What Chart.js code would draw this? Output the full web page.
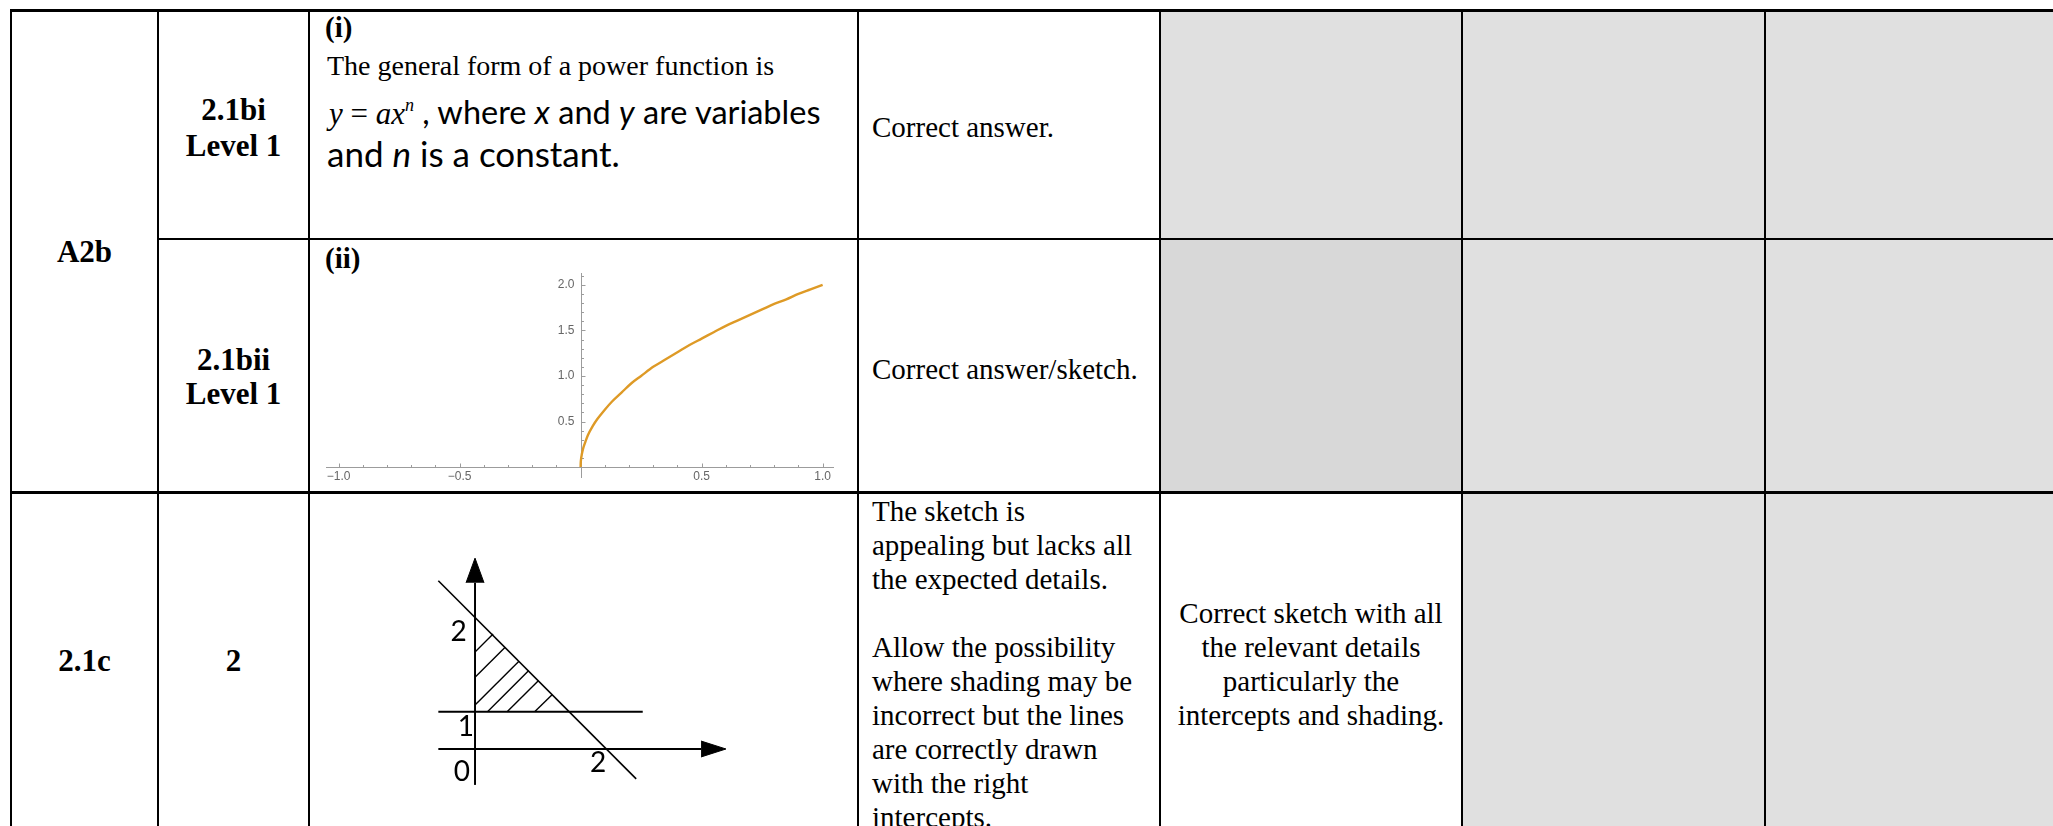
<!DOCTYPE html>
<html>
<head>
<meta charset="utf-8">
<script src="https://cdn.jsdelivr.net/npm/chart.js@4.4.1/dist/chart.umd.min.js"></script>
<style>
  html, body { margin: 0; padding: 0; background: #fff; }
  body { width: 2053px; height: 826px; overflow: hidden; position: relative;
         font-family: 'Liberation Serif', 'Times New Roman', serif; color: #000; }
  .ln { position: absolute; background: #000; }
  .fill { position: absolute; }
  .cell { position: absolute; display: flex; align-items: center; justify-content: center;
          text-align: center; font-weight: bold; font-size: 31px; line-height: 36px; }
  .t { position: absolute; font-size: 29px; line-height: 34px; white-space: nowrap; }
  .cal { font-family: Lato, 'Open Sans', sans-serif; font-size: 35px; }
  .m { font-family: 'Liberation Serif', serif; font-style: italic; font-size: 31px; }
  canvas { position: absolute; }
</style>
</head>
<body>

<!-- cell shading -->
<div class="fill" style="left:1160px;top:11px;width:893px;height:228px;background:#e0e0e0"></div>
<div class="fill" style="left:1160px;top:239px;width:302px;height:253px;background:#d8d8d8"></div>
<div class="fill" style="left:1462px;top:239px;width:591px;height:253px;background:#e0e0e0"></div>
<div class="fill" style="left:1462px;top:492px;width:591px;height:334px;background:#e0e0e0"></div>

<!-- grid lines -->
<div class="ln" style="left:10px;top:9px;width:2043px;height:3px"></div>
<div class="ln" style="left:157px;top:238px;width:1896px;height:2px"></div>
<div class="ln" style="left:10px;top:491px;width:2043px;height:3px"></div>
<div class="ln" style="left:10px;top:10px;width:2px;height:816px"></div>
<div class="ln" style="left:157px;top:10px;width:2px;height:816px"></div>
<div class="ln" style="left:308px;top:10px;width:2px;height:816px"></div>
<div class="ln" style="left:857px;top:10px;width:2px;height:816px"></div>
<div class="ln" style="left:1159px;top:10px;width:2px;height:816px"></div>
<div class="ln" style="left:1461px;top:10px;width:2px;height:816px"></div>
<div class="ln" style="left:1764px;top:10px;width:2px;height:816px"></div>

<!-- first two columns -->
<div class="cell" style="left:11px;top:11px;width:147px;height:481px">A2b</div>
<div class="cell" style="left:11px;top:492px;width:147px;height:338px">2.1c</div>
<div class="cell" style="left:158px;top:14px;width:151px;height:228px">2.1bi<br>Level 1</div>
<div class="cell" style="left:158px;top:250px;width:151px;height:253px;line-height:34px">2.1bii<br>Level 1</div>
<div class="cell" style="left:158px;top:492px;width:151px;height:338px">2</div>

<!-- question cells -->
<div class="t" style="left:325px;top:10px;font-weight:bold">(i)</div>
<div class="t" style="left:327px;top:49px;font-size:28px">The general form of a power function is</div>
<div class="t cal" style="left:329px;top:85px;line-height:40px;font-size:32.5px"><span class="m">y</span><span class="m" style="font-style:normal"> = </span><span class="m">ax</span><sup class="m" style="font-size:18px;vertical-align:13px">n</sup> , where <i>x</i> and <i>y</i> are variables</div>
<div class="t cal" style="left:327px;top:133px;line-height:40px">and <i>n</i> is a constant.</div>
<div class="t" style="left:325px;top:241px;font-weight:bold">(ii)</div>

<!-- comment cells -->
<div class="t" style="left:872px;top:110px">Correct answer.</div>
<div class="t" style="left:872px;top:352px">Correct answer/sketch.</div>
<div class="t" style="left:872px;top:494px">The sketch is<br>appealing but lacks all<br>the expected details.<br><br>Allow the possibility<br>where shading may be<br>incorrect but the lines<br>are correctly drawn<br>with the right<br>intercepts.</div>
<div class="t" style="left:1160px;top:596px;width:302px;text-align:center">Correct sketch with all<br>the relevant details<br>particularly the<br>intercepts and shading.</div>

<canvas id="powerChart" width="545" height="228" style="left:311px;top:262px"></canvas>
<canvas id="sketchChart" width="340" height="260" style="left:420px;top:540px"></canvas>

<script>
// 2.1bii: plotted curve
const powerX = [0, 0.0005, 0.002, 0.005, 0.01, 0.02, 0.03, 0.05, 0.07, 0.1, 0.13, 0.17, 0.21, 0.25, 0.3,
                0.35, 0.4, 0.45, 0.5, 0.55, 0.6, 0.65, 0.7, 0.75, 0.8, 0.85, 0.9, 0.95, 1.0];
const powerY = [0, 0.045, 0.09, 0.14, 0.2, 0.28, 0.35, 0.45, 0.53, 0.63, 0.72, 0.82, 0.92, 1.0, 1.1,
                1.18, 1.26, 1.34, 1.41, 1.48, 1.55, 1.61, 1.67, 1.73, 1.79, 1.84, 1.9, 1.95, 2.0];
const xTickLabels = [-1.0, -0.5, 0.5, 1.0];
const yTickLabels = [0.5, 1.0, 1.5, 2.0];
const xMinorTicks = [-0.9, -0.8, -0.7, -0.6, -0.4, -0.3, -0.2, -0.1, 0.1, 0.2, 0.3, 0.4, 0.6, 0.7, 0.8, 0.9];
const yMinorTicks = [0.1, 0.2, 0.3, 0.4, 0.6, 0.7, 0.8, 0.9, 1.1, 1.2, 1.3, 1.4, 1.6, 1.7, 1.8, 1.9, 2.1];

// 2.1c: hand sketch (not to scale), in sketch units
const yAxisLine = [[0, -0.54], [0, 2.5]];
const xAxisLine = [[-0.56, 0], [3.45, 0]];
const levelLine = [[-0.56, 0.56], [2.56, 0.56]];
const diagLine = [[-0.56, 2.53], [2.46, -0.45]];
const hatchStart = [[0, 1.46], [0, 1.08], [0, 0.66], [0.19, 0.56], [0.49, 0.56], [0.91, 0.56]];
const hatchEnd = [[0.275, 1.73], [0.46, 1.53], [0.67, 1.32], [0.82, 1.18], [0.97, 1.03], [1.18, 0.82]];
const arrowUp = [[-0.137, 2.5], [0, 2.87], [0.137, 2.5]];
const arrowRight = [[3.45, 0.12], [3.83, 0], [3.45, -0.12]];
const sketchLabels = ['2', '1', '0', '2'];
const sketchLabelPos = [[-0.25, 1.76], [-0.14, 0.33], [-0.2, -0.35], [1.88, -0.21]];

const toPts = arr => arr.map(p => ({ x: p[0], y: p[1] }));
const fmt = v => v.toFixed(1).replace('-', '\u2212');

// Mathematica-like axes crossing at the origin
const mathAxes = {
  id: 'mathAxes',
  beforeDatasetsDraw(chart) {
    const { ctx, scales: { x, y } } = chart;
    const x0 = Math.round(x.getPixelForValue(0)) + 0.5;
    const y0 = Math.round(y.getPixelForValue(0)) + 0.5;
    ctx.save();
    ctx.strokeStyle = '#9c9c9c';
    ctx.lineWidth = 1;
    ctx.beginPath();
    ctx.moveTo(x.left, y0); ctx.lineTo(x.right, y0);
    ctx.moveTo(x0, y.top); ctx.lineTo(x0, y.bottom);
    xTickLabels.forEach(v => { const p = Math.round(x.getPixelForValue(v)) + 0.5; ctx.moveTo(p, y0); ctx.lineTo(p, y0 - 4); });
    xMinorTicks.forEach(v => { const p = Math.round(x.getPixelForValue(v)) + 0.5; ctx.moveTo(p, y0); ctx.lineTo(p, y0 - 2.5); });
    yTickLabels.forEach(v => { const p = Math.round(y.getPixelForValue(v)) + 0.5; ctx.moveTo(x0, p); ctx.lineTo(x0 + 4, p); });
    yMinorTicks.forEach(v => { const p = Math.round(y.getPixelForValue(v)) + 0.5; ctx.moveTo(x0, p); ctx.lineTo(x0 + 2.5, p); });
    ctx.stroke();

    ctx.fillStyle = '#666';
    ctx.font = '12px "Liberation Sans", Arial, sans-serif';
    ctx.textBaseline = 'middle';
    ctx.textAlign = 'center';
    xTickLabels.forEach(v => ctx.fillText(fmt(v), x.getPixelForValue(v), y0 + 9));
    ctx.textAlign = 'right';
    yTickLabels.forEach(v => ctx.fillText(fmt(v), x0 - 7, y.getPixelForValue(v)));
    ctx.restore();
  }
};

new Chart(document.getElementById('powerChart'), {
  type: 'line',
  data: {
    datasets: [{
      data: powerX.map((v, i) => ({ x: v, y: powerY[i] })),
      borderColor: '#de9a26',
      borderWidth: 2.4,
      pointRadius: 0,
      cubicInterpolationMode: 'monotone',
      fill: false
    }]
  },
  options: {
    responsive: false,
    animation: false,
    layout: { padding: { left: 15, right: 22, top: 11, bottom: 12 } },
    plugins: { legend: { display: false }, tooltip: { enabled: false } },
    scales: {
      x: { type: 'linear', display: false, min: -1.052, max: 1.047 },
      y: { type: 'linear', display: false, min: -0.12, max: 2.13 }
    }
  },
  plugins: [mathAxes]
});

// sketch labels placed through the scales
const sketchText = {
  id: 'sketchText',
  afterDatasetsDraw(chart) {
    const { ctx, scales: { x, y } } = chart;
    ctx.save();
    ctx.fillStyle = '#000';
    ctx.font = '28px Lato, "Open Sans", sans-serif';
    ctx.textAlign = 'center';
    ctx.textBaseline = 'middle';
    sketchLabels.forEach((t, i) => {
      ctx.fillText(t, x.getPixelForValue(sketchLabelPos[i][0]), y.getPixelForValue(sketchLabelPos[i][1]));
    });
    ctx.restore();
  }
};

const seg = (pts, w) => ({ data: toPts(pts), borderColor: '#000', borderWidth: w, pointRadius: 0, fill: false, tension: 0 });
const sketchSets = [
  seg(yAxisLine, 2), seg(xAxisLine, 2), seg(levelLine, 2), seg(diagLine, 1.6)
];
hatchStart.forEach((p, i) => sketchSets.push(seg([p, hatchEnd[i]], 1.4)));
[arrowUp, arrowRight].forEach(a => sketchSets.push({
  data: toPts(a), borderColor: '#000', backgroundColor: '#000', borderWidth: 1,
  pointRadius: 0, fill: 'shape', tension: 0
}));

new Chart(document.getElementById('sketchChart'), {
  type: 'line',
  data: { datasets: sketchSets },
  options: {
    responsive: false,
    animation: false,
    layout: { padding: 0 },
    plugins: { legend: { display: false }, tooltip: { enabled: false } },
    scales: {
      x: { type: 'linear', display: false, min: -0.84, max: 4.35 },
      y: { type: 'linear', display: false, min: -0.767, max: 3.143 }
    }
  },
  plugins: [sketchText]
});
</script>
</body>
</html>
